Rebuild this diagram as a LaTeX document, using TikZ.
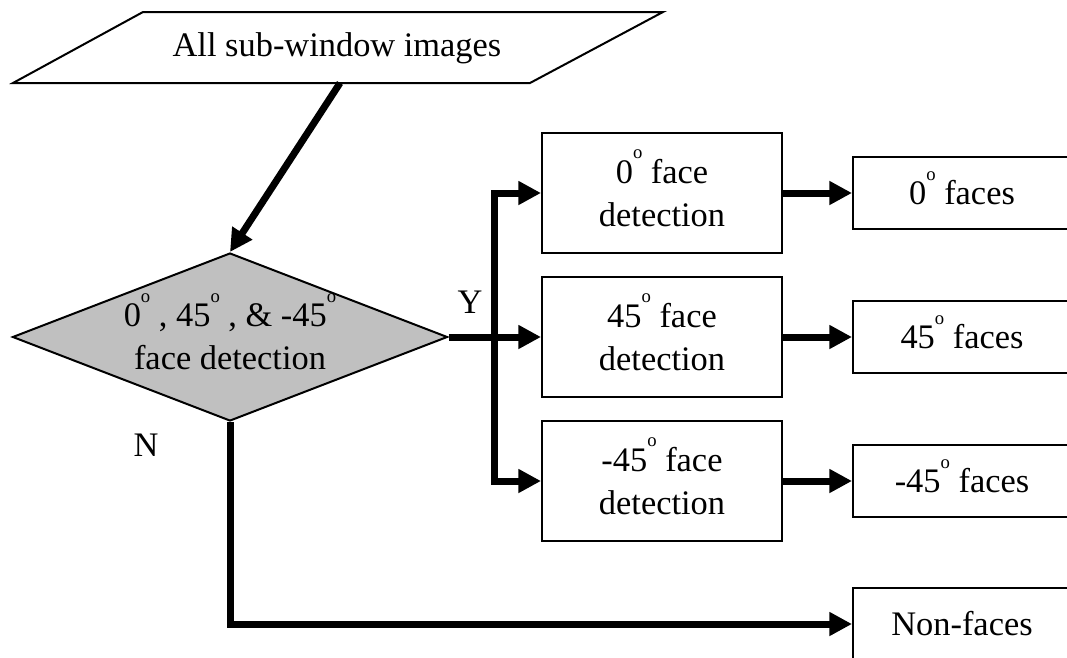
\documentclass[tikz,border=0pt]{standalone}
\usepackage{fontspec}
\setmainfont{Liberation Serif}
\usetikzlibrary{arrows.meta,shapes.geometric}

\definecolor{decgray}{HTML}{C0C0C0}
% raised small "o" used as the degree mark
\newcommand\sdeg{\smash{\raisebox{18.5pt}{\fontsize{14}{14}\selectfont o}}}

\begin{document}
\begin{tikzpicture}[x=0.75pt,y=-0.75pt,
  font=\fontsize{25.8}{32.3}\selectfont,
  thinline/.style={line width=1.5pt},
  detbox/.style={draw, line width=1.5pt, minimum width=180pt, minimum height=90pt,
    inner sep=0pt, align=center},
  outbox/.style={draw, line width=1.5pt, minimum width=163.5pt, minimum height=54pt,
    inner sep=0pt, align=center},
  decision/.style={diamond, draw, line width=1.5pt, fill=decgray, aspect=2.59,
    minimum width=326.25pt, minimum height=126pt, inner sep=0pt, align=center},
  flow/.style={line width=5.25pt, line join=miter,
    -{Triangle[length=17pt,width=17pt]}},
]
\useasboundingbox (0,0) rectangle (1067,657);
\clip (0,0) rectangle (1067,657);

% input parallelogram
\draw[thinline] (13,83) -- (530,83) -- (663,12) -- (143,12) -- cycle;
\node (src) at (337,48) {All sub-window images};
\coordinate (srcb) at (340,83);

% decision diamond
\node[decision] (dec) at (230,337)
  {0\sdeg{} , 45\sdeg{} , \& -45\sdeg\\face detection};

% detectors
\node[detbox] (det0) at (662,193) {0\sdeg{} face\\detection};
\node[detbox] (det45) at (662,337) {45\sdeg{} face\\detection};
\node[detbox] (detm45) at (662,481) {-45\sdeg{} face\\detection};

% outputs
\node[outbox] (out0) at (962,193) {0\sdeg{} faces};
\node[outbox] (out45) at (962,337) {45\sdeg{} faces};
\node[outbox] (outm45) at (962,481) {-45\sdeg{} faces};
\node[outbox] (nonf) at (962,624) {Non-faces};

% connectors
\draw[flow] (srcb) -- (dec.north);
\coordinate (j) at (494,337);
\draw[flow] (dec.east) -- (det45.west);
\draw[flow] (j) |- (det0.west);
\draw[flow] (j) |- (detm45.west);
\draw[flow] (det0.east) -- (out0.west);
\draw[flow] (det45.east) -- (out45.west);
\draw[flow] (detm45.east) -- (outm45.west);
\draw[flow] (dec.south) |- (nonf.west);

% branch labels
\node (ylab) at (470,302) {Y};
\node (nlab) at (146,445) {N};
\end{tikzpicture}
\end{document}
